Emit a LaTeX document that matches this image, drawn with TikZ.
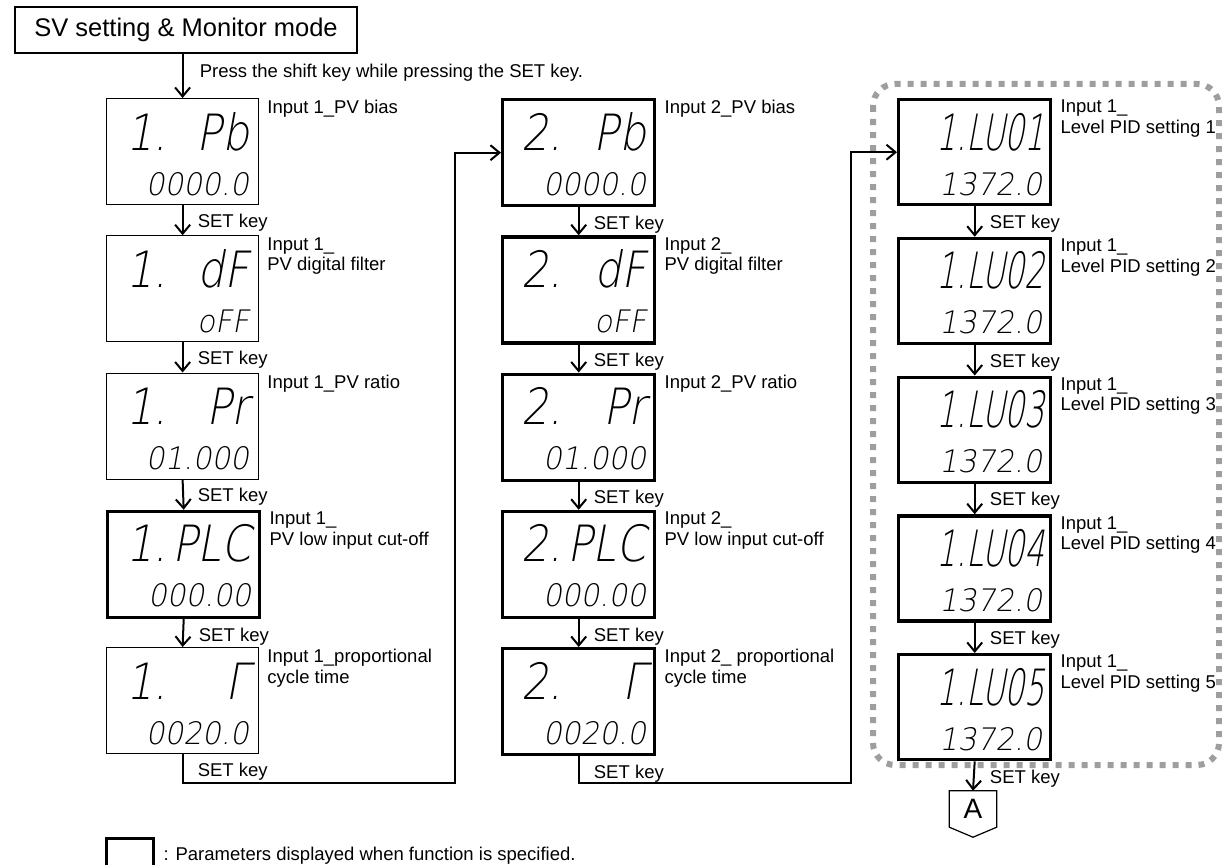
\documentclass[tikz,border=0pt]{standalone}
\usepackage{fontspec}
\setmainfont{Liberation Sans}
\newfontfamily\segfont{DejaVu Sans ExtraLight}[FakeSlant=0.18,FakeStretch=0.85]
\newfontfamily\segnarrow{DejaVu Sans ExtraLight}[FakeSlant=0.18,FakeStretch=0.62]
\newfontfamily\segwide{DejaVu Sans ExtraLight}[FakeSlant=0.18,FakeStretch=0.95]
\usetikzlibrary{arrows.meta,positioning}
\definecolor{framegray}{gray}{0.62}
\tikzset{
  dispbox/.style={draw, line width=1.2pt, minimum width=152pt, minimum height=106pt, inner sep=0pt},
  dispbold/.style={dispbox, line width=3.4pt},
  segbig/.style={font=\segfont\fontsize{50}{50}\selectfont, inner sep=0pt},
  segtight/.style={font=\segnarrow\fontsize{50}{50}\selectfont, inner sep=0pt},
  segsmall/.style={font=\segwide\fontsize{31}{31}\selectfont, inner sep=0pt},
  lbl/.style={font=\fontsize{18.5}{20.5}\selectfont, inner sep=0pt, align=left},
  arr/.style={line width=2pt, -{Straight Barb[length=9pt,width=15pt,line width=2pt]}},
}
\begin{document}
\begin{tikzpicture}[x=1pt,y=-1pt]
\useasboundingbox (0,0) rectangle (1222,864);

% mode box and entry
\node (head)[draw, line width=1.6pt, minimum width=342pt, minimum height=46pt, font=\fontsize{25.5}{25.5}\selectfont] at (186,30) {SV setting \& Monitor mode};
\node (d11)[dispbox, anchor=north west] at (106,98) {};
\draw[arr] (d11.north |- head.south) -- (d11.north);
\node (press)[lbl, anchor=base west] at ([shift={(17,-20)}]d11.north) {Press the shift key while pressing the SET key.};

% input 1
\foreach \i/\st/\r/\v/\l in {1/dispbox/Pb/0000.0/{Input 1\_PV bias},
    2/dispbox/dF/oFF/{Input 1\_\\PV digital filter},
    3/dispbox/Pr/01.000/{Input 1\_PV ratio},
    4/dispbold/PLC/000.00/{Input 1\_\\PV low input cut-off},
    5/dispbox/Γ/0020.0/{Input 1\_proportional\\cycle time}} {
  \node (d1\i)[\st, anchor=north west] at (106,{98+137.25*(\i-1)}) {};
  \node (d1\i a)[segbig, anchor=base west] at ([shift={(20,52)}]d1\i.north west) {1.};
  \node (d1\i b)[segbig, anchor=base east] at ([shift={(-10,52)}]d1\i.north east) {\r};
  \node (d1\i c)[segsmall, anchor=base east] at ([shift={(-10,97)}]d1\i.north east) {\v};
  \node (d1\i t)[lbl, anchor=north west] at ([shift={(8,2)}]d1\i.north east) {\l};
}

% input 2
\foreach \i/\r/\v/\l in {1/Pb/0000.0/{Input 2\_PV bias},
    2/dF/oFF/{Input 2\_\\PV digital filter},
    3/Pr/01.000/{Input 2\_PV ratio},
    4/PLC/000.00/{Input 2\_\\PV low input cut-off},
    5/Γ/0020.0/{Input 2\_ proportional\\cycle time}} {
  \node (d2\i)[dispbold, anchor=north west] at (501,{98+137.25*(\i-1)}) {};
  \node (d2\i a)[segbig, anchor=base west] at ([shift={(20,52)}]d2\i.north west) {2.};
  \node (d2\i b)[segbig, anchor=base east] at ([shift={(-10,52)}]d2\i.north east) {\r};
  \node (d2\i c)[segsmall, anchor=base east] at ([shift={(-10,97)}]d2\i.north east) {\v};
  \node (d2\i t)[lbl, anchor=north west] at ([shift={(8,2)}]d2\i.north east) {\l};
}

% level PID group
\draw[framegray, line width=6pt, dash pattern=on 6pt off 7pt, rounded corners=22pt] (873,84) rectangle (1219,765);
\foreach \i in {1,...,5} {
  \node (d3\i)[dispbold, minimum height=105pt, anchor=north west] at (897,{98+138.75*(\i-1)}) {};
  \node (d3\i b)[segtight, anchor=base east] at ([shift={(-8,52)}]d3\i.north east) {1.LU0\i};
  \node (d3\i c)[segsmall, anchor=base east] at ([shift={(-10,97)}]d3\i.north east) {1372.0};
  \node (d3\i t)[lbl, anchor=north west] at ([shift={(8,2)}]d3\i.north east) {Input 1\_\\Level PID setting \i};
}

% SET key steps
\foreach \c in {1,2,3} {
  \foreach \i [evaluate=\i as \j using int(\i+1)] in {1,...,4} {
    \draw[arr] (d\c\i.south) -- (d\c\j.north);
    \node (k\c\i)[lbl, anchor=base west] at ([shift={(15,22)}]d\c\i.south) {SET key};
  }
  \node (k\c5)[lbl, anchor=base west] at ([shift={(15,22)}]d\c5.south) {SET key};
}

% jumps between columns
\coordinate (j1) at (455,783);
\coordinate (j2) at (851,783);
\draw[arr] (d15.south) |- (j1) |- (d21.west);
\draw[arr] (d25.south) |- (j2) |- (d31.west);

% continuation
\node (A)[minimum width=47pt, minimum height=36pt, inner sep=0pt, font=\fontsize{28}{28}\selectfont] at (973,809) {A};
\draw[line width=1.2pt] (A.north west) -- (A.north east) -- (A.south east) -- ([yshift=-10pt]A.south) -- (A.south west) -- cycle;
\draw[arr] (d35.south) -- (A.north);

% legend
\node (key)[draw, line width=3.4pt, minimum width=47pt, minimum height=36pt, anchor=north west] at (105,837) {};
\node (keytxt)[lbl, anchor=base west] at ([shift={(8,23)}]key.north east) {: Parameters displayed when function is specified.};
\end{tikzpicture}
\end{document}
